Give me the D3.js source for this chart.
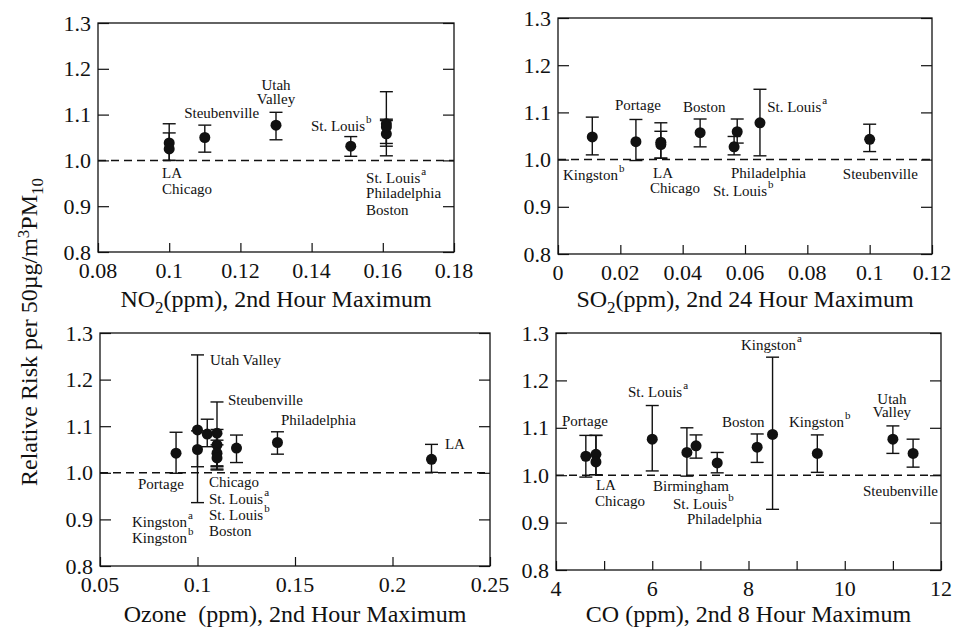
<!DOCTYPE html>
<html>
<head>
<meta charset="utf-8">
<script src="https://cdn.jsdelivr.net/npm/d3@7"></script>
</head>
<body style="margin:0">
<div id="chart"></div>
<script>
// ---- data ----
// NO2 panel
const no2City = ["LA", "Chicago", "Steubenville", "Utah Valley", "St. Louis b", "St. Louis a", "Philadelphia", "Boston"];
const no2X  = [0.1, 0.1, 0.11, 0.13, 0.151, 0.161, 0.161, 0.161];
const no2RR = [1.038, 1.025, 1.05, 1.077, 1.031, 1.08, 1.058, 1.073];
const no2Lo = [1.0, 1.0, 1.018, 1.045, 1.009, 1.01, 1.031, 1.037];
const no2Hi = [1.08, 1.06, 1.077, 1.105, 1.052, 1.15, 1.087, 1.09];

// SO2 panel
const so2City = ["Kingston b", "Portage", "LA", "Chicago", "Boston", "Philadelphia", "St. Louis b", "St. Louis a", "Steubenville"];
const so2X  = [0.011, 0.025, 0.033, 0.033, 0.0456, 0.0575, 0.0565, 0.0648, 0.1];
const so2RR = [1.048, 1.038, 1.037, 1.032, 1.057, 1.059, 1.027, 1.078, 1.043];
const so2Lo = [1.01, 0.998, 1.003, 1.003, 1.027, 1.035, 1.01, 1.008, 1.017];
const so2Hi = [1.09, 1.085, 1.078, 1.06, 1.086, 1.086, 1.049, 1.149, 1.075];

// Ozone panel
const o3City = ["Portage", "Utah Valley", "Kingston a", "Kingston b", "Steubenville", "Chicago", "St. Louis a", "Boston", "St. Louis b", "Philadelphia", "LA"];
const o3X  = [0.089, 0.1, 0.1, 0.105, 0.11, 0.11, 0.11, 0.11, 0.12, 0.141, 0.22];
const o3RR = [1.042, 1.092, 1.05, 1.083, 1.085, 1.06, 1.042, 1.032, 1.053, 1.065, 1.029];
const o3Lo = [0.999, 0.936, 1.013, 1.056, 1.013, 1.006, 1.015, 1.008, 1.022, 1.04, 1.001];
const o3Hi = [1.087, 1.253, 1.09, 1.115, 1.152, 1.093, 1.07, 1.06, 1.081, 1.088, 1.061];

// CO panel
const coCity = ["Portage", "LA", "Chicago", "St. Louis a", "Birmingham", "St. Louis b", "Philadelphia", "Boston", "Kingston a", "Kingston b", "Utah Valley", "Steubenville"];
const coX  = [4.62, 4.83, 4.83, 6.0, 6.72, 6.91, 7.35, 8.18, 8.5, 9.43, 11.0, 11.42];
const coRR = [1.04, 1.044, 1.028, 1.076, 1.048, 1.062, 1.026, 1.059, 1.086, 1.046, 1.076, 1.046];
const coLo = [0.996, 1.001, 1.001, 1.009, 0.998, 1.036, 1.005, 1.027, 0.928, 1.006, 1.046, 1.017];
const coHi = [1.084, 1.084, 1.084, 1.147, 1.10, 1.085, 1.048, 1.087, 1.249, 1.085, 1.104, 1.076];

// tick values / labels
const yTicks = [0.8, 0.9, 1.0, 1.1, 1.2, 1.3];
const no2Ticks = [0.08, 0.1, 0.12, 0.14, 0.16, 0.18];
const no2TickLabels = ["0.08", "0.1", "0.12", "0.14", "0.16", "0.18"];
const so2Ticks = [0, 0.02, 0.04, 0.06, 0.08, 0.1, 0.12];
const so2TickLabels = ["0", "0.02", "0.04", "0.06", "0.08", "0.1", "0.12"];
const o3Ticks = [0.05, 0.1, 0.15, 0.2, 0.25];
const o3TickLabels = ["0.05", "0.1", "0.15", "0.2", "0.25"];
const coTicks = [4, 5, 6, 7, 8, 9, 10, 11, 12];
const coTickLabels = ["4", "", "6", "", "8", "", "10", "", "12"];

// city annotations: text, superscript, anchor in data units
const no2Notes = [
  { t: "LA", x: 0.098, y: 0.962 }, { t: "Chicago", x: 0.098, y: 0.927 },
  { t: "Steubenville", x: 0.1042, y: 1.093 },
  { t: "Utah", x: 0.13, y: 1.154, a: "middle" }, { t: "Valley", x: 0.13, y: 1.123, a: "middle" },
  { t: "St. Louis", s: "b", x: 0.1398, y: 1.064 },
  { t: "St. Louis", s: "a", x: 0.1553, y: 0.951 },
  { t: "Philadelphia", x: 0.1553, y: 0.918 }, { t: "Boston", x: 0.1553, y: 0.881 }
];
const so2Notes = [
  { t: "Kingston", s: "b", x: 0.0016, y: 0.957 },
  { t: "Portage", x: 0.0183, y: 1.105 },
  { t: "LA", x: 0.0305, y: 0.961 }, { t: "Chicago", x: 0.0295, y: 0.929 },
  { t: "Boston", x: 0.0401, y: 1.101 },
  { t: "Philadelphia", x: 0.0555, y: 0.961 },
  { t: "St. Louis", s: "b", x: 0.0497, y: 0.923 },
  { t: "St. Louis", s: "a", x: 0.0671, y: 1.101 },
  { t: "Steubenville", x: 0.0914, y: 0.959 }
];
const o3Notes = [
  { t: "Utah Valley", x: 0.1064, y: 1.231 },
  { t: "Steubenville", x: 0.1156, y: 1.145 },
  { t: "Philadelphia", x: 0.1428, y: 1.103 },
  { t: "LA", x: 0.2269, y: 1.051 },
  { t: "Portage", x: 0.0695, y: 0.965 },
  { t: "Chicago", x: 0.1059, y: 0.970 },
  { t: "St. Louis", s: "a", x: 0.1059, y: 0.933 },
  { t: "St. Louis", s: "b", x: 0.1059, y: 0.899 },
  { t: "Boston", x: 0.1059, y: 0.864 },
  { t: "Kingston", s: "a", x: 0.0664, y: 0.884 },
  { t: "Kingston", s: "b", x: 0.0664, y: 0.849 }
];
const coNotes = [
  { t: "Portage", x: 4.125, y: 1.104 },
  { t: "LA", x: 4.83, y: 0.969 }, { t: "Chicago", x: 4.81, y: 0.935 },
  { t: "St. Louis", s: "a", x: 5.496, y: 1.165 },
  { t: "Birmingham", x: 6.016, y: 0.967 },
  { t: "St. Louis", s: "b", x: 6.431, y: 0.929 },
  { t: "Philadelphia", x: 6.722, y: 0.897 },
  { t: "Boston", x: 7.449, y: 1.102 },
  { t: "Kingston", s: "a", x: 7.844, y: 1.264 },
  { t: "Kingston", s: "b", x: 8.842, y: 1.102 },
  { t: "Utah", x: 10.98, y: 1.150, a: "middle" }, { t: "Valley", x: 10.98, y: 1.123, a: "middle" },
  { t: "Steubenville", x: 10.379, y: 0.956 }
];

function rows(city, xs, rr, lo, hi) {
  return city.map((c, i) => ({ city: c, x: xs[i], rr: rr[i], lo: lo[i], hi: hi[i] }));
}

const panels = [
  { data: rows(no2City, no2X, no2RR, no2Lo, no2Hi), notes: no2Notes,
    xDomain: [0.08, 0.18], ticks: no2Ticks, tickLabels: no2TickLabels,
    frame: { l: 98, r: 454, t: 23, b: 252 }, titleY: 307,
    title: [["NO"], ["2", "sub"], [" (ppm), 2nd Hour Maximum"]] },
  { data: rows(so2City, so2X, so2RR, so2Lo, so2Hi), notes: so2Notes,
    xDomain: [0, 0.12], ticks: so2Ticks, tickLabels: so2TickLabels,
    frame: { l: 558, r: 932, t: 18, b: 254 }, titleY: 307,
    title: [["SO"], ["2", "sub"], [" (ppm), 2nd 24 Hour Maximum"]] },
  { data: rows(o3City, o3X, o3RR, o3Lo, o3Hi), notes: o3Notes,
    xDomain: [0.05, 0.25], ticks: o3Ticks, tickLabels: o3TickLabels,
    frame: { l: 100, r: 490, t: 333, b: 566 }, titleY: 622,
    title: [["Ozone\u00a0 (ppm), 2nd Hour Maximum"]] },
  { data: rows(coCity, coX, coRR, coLo, coHi), notes: coNotes,
    xDomain: [4, 12], ticks: coTicks, tickLabels: coTickLabels,
    frame: { l: 556, r: 941, t: 333, b: 570 }, titleY: 622,
    title: [["CO (ppm), 2nd 8 Hour Maximum"]] }
];

const SERIF = '"Liberation Serif"';
const width = 954, height = 628;
const svg = d3.select("#chart").append("svg")
  .attr("width", width).attr("height", height);

// every text is a plain <text> straight under the svg, no tspans
function addText(x, y, str, size, anchor, transform) {
  const t = svg.append("text")
    .attr("x", x).attr("y", y)
    .attr("font-size", size)
    .attr("text-anchor", anchor || "start")
    .attr("fill", "#111")
    .style("font-family", () => SERIF)
    .text(str);
  if (transform) t.attr("transform", transform);
  return t;
}

// centred text made of pieces, with sub/superscripts laid out by measured widths
function addRich(cx, y, parts, big, small, transform) {
  const pieces = parts.map(([txt, kind]) => {
    const size = kind ? small : big;
    const dy = kind === "sub" ? 0.35 * small : kind === "sup" ? -0.5 * small : 0;
    const t = addText(0, y + dy, txt, size, "start", transform);
    return { t, w: t.node().getComputedTextLength() };
  });
  let xPos = cx - d3.sum(pieces, d => d.w) / 2;
  pieces.forEach(p => { p.t.attr("x", xPos); xPos += p.w; });
}

const marks = svg.append("g");

panels.forEach(p => {
  const f = p.frame;
  const x = d3.scaleLinear().domain(p.xDomain).range([f.l, f.r]);
  const y = d3.scaleLinear().domain([0.8, 1.3]).range([f.b, f.t]);
  const g = marks.append("g");

  // inward tick marks from d3 axes (labels drawn separately)
  g.append("g").attr("transform", `translate(0,${f.b})`)
    .call(d3.axisBottom(x).tickValues(p.ticks).tickSizeInner(-9).tickSizeOuter(0).tickFormat(""));
  g.append("g").attr("transform", `translate(${f.l},0)`)
    .call(d3.axisLeft(y).tickValues(yTicks).tickSizeInner(-11).tickSizeOuter(0).tickFormat(""));
  g.append("g").attr("transform", `translate(${f.r},0)`)
    .call(d3.axisRight(y).tickValues(yTicks).tickSizeInner(-11).tickSizeOuter(0).tickFormat(""));
  g.selectAll(".domain").remove();
  g.selectAll(".tick text").remove();
  g.selectAll(".tick line").attr("stroke", "#111").attr("stroke-width", 1.2);

  // tick labels placed with the same scales
  p.ticks.forEach((v, i) => { if (p.tickLabels[i]) addText(x(v), f.b + 26, p.tickLabels[i], 22, "middle"); });
  yTicks.forEach(v => addText(f.l - 7, y(v) + 7.5, d3.format(".1f")(v), 22, "end"));

  g.append("rect")
    .attr("x", f.l).attr("y", f.t)
    .attr("width", f.r - f.l).attr("height", f.b - f.t)
    .attr("fill", "none").attr("stroke", "#111").attr("stroke-width", 1.3);

  // reference line RR = 1
  g.append("line")
    .attr("x1", f.l).attr("x2", f.r)
    .attr("y1", y(1)).attr("y2", y(1))
    .attr("stroke", "#111").attr("stroke-width", 1.5)
    .attr("stroke-dasharray", "8,5");

  // error bars
  const bars = g.append("g").attr("stroke", "#111").attr("stroke-width", 1.4);
  bars.selectAll(".v").data(p.data).join("line").attr("class", "v")
    .attr("x1", d => x(d.x)).attr("x2", d => x(d.x))
    .attr("y1", d => y(d.lo)).attr("y2", d => y(d.hi));
  bars.selectAll(".cl").data(p.data).join("line").attr("class", "cl")
    .attr("x1", d => x(d.x) - 6.5).attr("x2", d => x(d.x) + 6.5)
    .attr("y1", d => y(d.lo)).attr("y2", d => y(d.lo));
  bars.selectAll(".ch").data(p.data).join("line").attr("class", "ch")
    .attr("x1", d => x(d.x) - 6.5).attr("x2", d => x(d.x) + 6.5)
    .attr("y1", d => y(d.hi)).attr("y2", d => y(d.hi));

  // points
  g.append("g").selectAll("circle").data(p.data).join("circle")
    .attr("cx", d => x(d.x)).attr("cy", d => y(d.rr))
    .attr("r", 5.5).attr("fill", "#111");

  // city labels, superscript as its own text after the measured name
  p.notes.forEach(n => {
    const t = addText(x(n.x), y(n.y), n.t, 15, n.a || "start");
    if (n.s) {
      const w = t.node().getComputedTextLength();
      addText(x(n.x) + w + 1, y(n.y) - 8, n.s, 11, "start");
    }
  });

  // x-axis title
  addRich((f.l + f.r) / 2, p.titleY, p.title, 24, 17);
});

// shared y-axis title
addRich(0, 0, [["Relative Risk per 50\u00b5g/m"], ["3", "sup"], [" PM"], ["10", "sub"]], 24, 17,
  "translate(37,332) rotate(-90)");
</script>
</body>
</html>
